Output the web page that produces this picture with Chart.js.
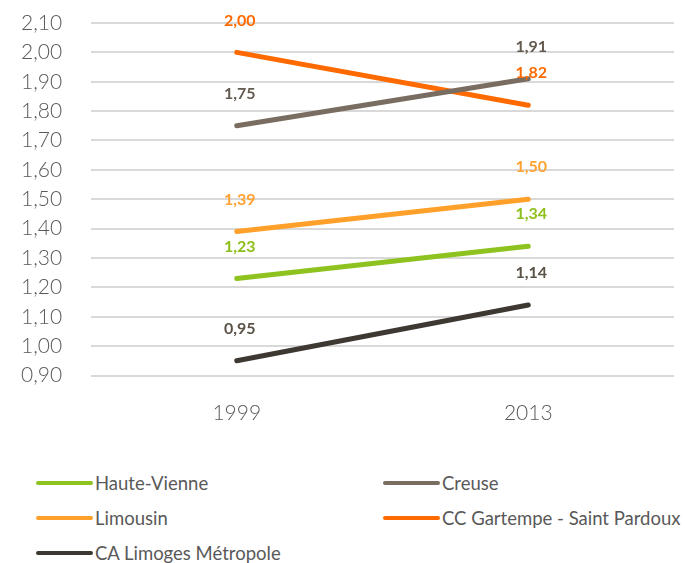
<!DOCTYPE html>
<html>
<head>
<meta charset="utf-8">
<script src="https://cdn.jsdelivr.net/npm/chart.js@4/dist/chart.umd.min.js"></script>
<style>
  body { margin: 0; background: #fff; font-family: Lato, sans-serif; }
  #wrap { position: relative; width: 685px; height: 563px; overflow: hidden; }
  #chart { position: absolute; left: 0; top: 0; }
  .leg { position: absolute; display: flex; align-items: center; font-size: 18.5px; color: #595959; white-space: nowrap; }
  .leg span.swatch { display: inline-block; width: 57px; height: 4px; border-radius: 2px; margin-right: 2px; }
</style>
</head>
<body>
<div id="wrap">
  <canvas id="chart" width="685" height="440"></canvas>
  <div id="legend"></div>
</div>
<script>
// Categories and series
const years = ['1999', '2013'];
const seriesNames = ['Haute-Vienne', 'Creuse', 'Limousin', 'CC Gartempe - Saint Pardoux', 'CA Limoges Métropole'];
const hauteVienne = [1.23, 1.34];
const creuse = [1.75, 1.91];
const limousin = [1.39, 1.50];
const gartempe = [2.00, 1.82];
const limoges = [0.95, 1.14];
const lineColors = ['#8dc21f', '#786d60', '#ffa02a', '#ff6a00', '#3e3832'];
const labelColors = ['#8dbf1a', '#645b50', '#ffa231', '#ff6a00', '#5a5147'];

const fmt = v => v.toFixed(2).replace('.', ',');

const seriesData = [hauteVienne, creuse, limousin, gartempe, limoges];

// draw value labels above each point
const valueLabels = {
    id: 'valueLabels',
    afterDatasetsDraw(chart) {
        const ctx = chart.ctx;
        ctx.save();
        ctx.font = 'bold 16px Lato, sans-serif';
        ctx.textAlign = 'center';
        ctx.textBaseline = 'middle';
        chart.data.datasets.forEach((ds, i) => {
            const meta = chart.getDatasetMeta(i);
            ctx.fillStyle = labelColors[i];
            meta.data.forEach((pt, j) => {
                ctx.fillText(fmt(ds.data[j]), pt.x + 3, pt.y - 32);
            });
        });
        ctx.restore();
    }
};

const chart = new Chart(document.getElementById('chart'), {
    type: 'line',
    data: {
        labels: years,
        datasets: seriesData.map((d, i) => ({
            label: seriesNames[i],
            data: d,
            borderColor: lineColors[i],
            backgroundColor: lineColors[i],
            borderWidth: 5,
            borderCapStyle: 'round',
            pointRadius: 0,
            tension: 0,
            fill: false
        }))
    },
    options: {
        responsive: false,
        animation: false,
        layout: { padding: { top: 23, right: 11, left: 21, bottom: 0 } },
        plugins: {
            legend: { display: false },
            tooltip: { enabled: false }
        },
        scales: {
            x: {
                offset: true,
                grid: { display: false },
                border: { display: false },
                ticks: { color: '#595959', font: { family: 'Lato', size: 21, weight: 300 }, padding: 17 },
                afterFit: s => { s.height = 64.5; }
            },
            y: {
                min: 0.9,
                max: 2.1,
                border: { display: false },
                grid: { color: '#d9d9d9', lineWidth: 2, drawTicks: false },
                ticks: {
                    stepSize: 0.1,
                    autoSkip: false,
                    crossAlign: 'far',
                    color: '#595959',
                    font: { family: 'Lato', size: 21, weight: 300 },
                    padding: 0,
                    callback: v => fmt(v)
                },
                afterFit: s => { s.width = 70; }
            }
        }
    },
    plugins: [valueLabels]
});

// legend in two columns
const legend = document.getElementById('legend');
seriesNames.forEach((name, i) => {
    const item = document.createElement('div');
    item.className = 'leg';
    item.style.left = (i % 2 === 0 ? 36 : 383) + 'px';
    item.style.top = (483 + Math.floor(i / 2) * 35 - 12) + 'px';
    item.style.height = '24px';
    item.innerHTML = '<span class="swatch" style="background:' + lineColors[i] + '"></span>' + name;
    legend.appendChild(item);
});
</script>
</body>
</html>
